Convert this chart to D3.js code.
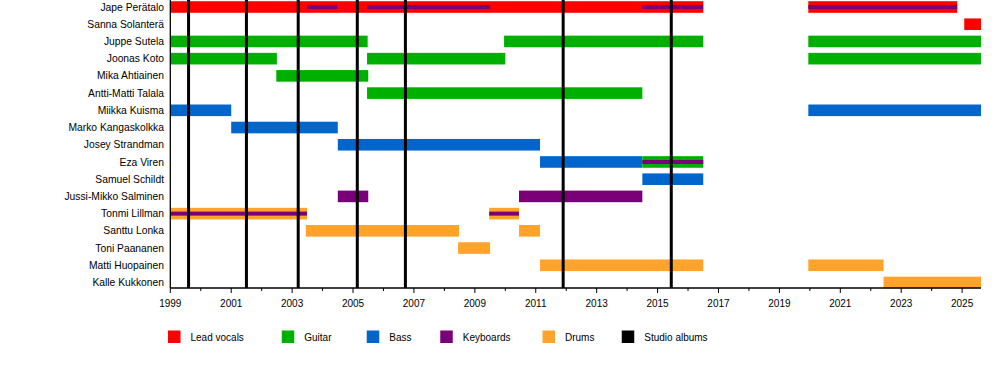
<!DOCTYPE html>
<html>
<head>
<meta charset="utf-8">
<script src="https://cdn.jsdelivr.net/npm/d3@7"></script>
<style>
  body { margin: 0; background: #fff; }
  text { font-family: "Liberation Sans", Arial, sans-serif; fill: #000; }
</style>
</head>
<body>
<div id="chart"></div>
<script>
(function () {
    // Data
    const members = [
        "Jape Perätalo", "Sanna Solanterä", "Juppe Sutela", "Joonas Koto", "Mika Ahtiainen",
        "Antti-Matti Talala", "Miikka Kuisma", "Marko Kangaskolkka", "Josey Strandman", "Eza Viren",
        "Samuel Schildt", "Jussi-Mikko Salminen", "Tonmi Lillman", "Santtu Lonka", "Toni Paananen",
        "Matti Huopainen", "Kalle Kukkonen"
    ];
    const roles = ["Lead vocals", "Guitar", "Bass", "Keyboards", "Drums", "Studio albums"];
    const endDate = 2025.62;

    // main bars: member, role, start, end
    const periods = [
        ["Jape Perätalo", "Lead vocals", 1999, 2016.5],
        ["Jape Perätalo", "Lead vocals", 2019.95, 2024.84],
        ["Sanna Solanterä", "Lead vocals", 2025.07, endDate],
        ["Juppe Sutela", "Guitar", 1999, 2005.48],
        ["Juppe Sutela", "Guitar", 2009.96, 2016.5],
        ["Juppe Sutela", "Guitar", 2019.95, endDate],
        ["Joonas Koto", "Guitar", 1999, 2002.5],
        ["Joonas Koto", "Guitar", 2005.46, 2010],
        ["Joonas Koto", "Guitar", 2019.95, endDate],
        ["Mika Ahtiainen", "Guitar", 2002.48, 2005.5],
        ["Antti-Matti Talala", "Guitar", 2005.46, 2014.5],
        ["Miikka Kuisma", "Bass", 1999, 2001],
        ["Miikka Kuisma", "Bass", 2019.95, endDate],
        ["Marko Kangaskolkka", "Bass", 2001, 2004.5],
        ["Josey Strandman", "Bass", 2004.5, 2011.14],
        ["Eza Viren", "Bass", 2011.14, 2014.5],
        ["Eza Viren", "Guitar", 2014.5, 2016.5],
        ["Samuel Schildt", "Bass", 2014.5, 2016.5],
        ["Jussi-Mikko Salminen", "Keyboards", 2004.5, 2005.5],
        ["Jussi-Mikko Salminen", "Keyboards", 2010.45, 2014.5],
        ["Tonmi Lillman", "Drums", 1999, 2003.49],
        ["Tonmi Lillman", "Drums", 2009.47, 2010.45],
        ["Santtu Lonka", "Drums", 2003.45, 2008.48],
        ["Santtu Lonka", "Drums", 2010.45, 2011.14],
        ["Toni Paananen", "Drums", 2008.45, 2009.5],
        ["Matti Huopainen", "Drums", 2011.14, 2016.5],
        ["Matti Huopainen", "Drums", 2019.95, 2022.42],
        ["Kalle Kukkonen", "Drums", 2022.42, endDate]
    ];

    // thin secondary-role bars drawn over the main ones
    const overlays = [
        ["Jape Perätalo", "Keyboards", 2003.49, 2004.48],
        ["Jape Perätalo", "Keyboards", 2005.46, 2009.5],
        ["Jape Perätalo", "Keyboards", 2014.5, 2016.5],
        ["Jape Perätalo", "Keyboards", 2019.95, 2024.84],
        ["Eza Viren", "Keyboards", 2014.5, 2016.5],
        ["Tonmi Lillman", "Keyboards", 1999, 2003.49],
        ["Tonmi Lillman", "Keyboards", 2009.47, 2010.45]
    ];

    const albums = [1999.6, 2001.5, 2003.2, 2005.14, 2006.72, 2011.9, 2015.45];

    // Layout
    const width = 1000, height = 368;
    const color = d3.scaleOrdinal()
        .domain(roles)
        .range(["#ff0000", "#00b000", "#0066cc", "#7a0078", "#ffa32a", "#000000"]);

    const x = d3.scaleLinear().domain([1999, endDate]).range([170.3, 981]);
    const y = d3.scaleBand().domain(members).range([-1.6, 291.1]).padding(0);
    const barH = 11.6, lineH = 4, axisY = 288;

    const svg = d3.select("#chart").append("svg")
        .attr("width", width)
        .attr("height", height)
        .attr("viewBox", [0, 0, width, height]);

    svg.append("rect").attr("width", width).attr("height", height).attr("fill", "#fff");

    // bars
    svg.append("g").selectAll("rect")
        .data(periods)
        .join("rect")
        .attr("x", d => x(d[2]))
        .attr("y", d => y(d[0]) + y.bandwidth() / 2 - barH / 2)
        .attr("width", d => x(d[3]) - x(d[2]))
        .attr("height", barH)
        .attr("fill", d => color(d[1]));

    svg.append("g").selectAll("rect")
        .data(overlays)
        .join("rect")
        .attr("x", d => x(d[2]))
        .attr("y", d => y(d[0]) + y.bandwidth() / 2 - lineH / 2)
        .attr("width", d => x(d[3]) - x(d[2]))
        .attr("height", lineH)
        .attr("fill", d => color(d[1]));

    // studio albums
    svg.append("g").selectAll("line")
        .data(albums)
        .join("line")
        .attr("x1", d => x(d)).attr("x2", d => x(d))
        .attr("y1", 0).attr("y2", axisY)
        .attr("stroke", "#000")
        .attr("stroke-width", 3);

    // left axis line
    svg.append("line")
        .attr("x1", x(1999)).attr("x2", x(1999))
        .attr("y1", 0).attr("y2", axisY)
        .attr("stroke", "#000").attr("stroke-width", 1.3);

    // bottom axis
    const years = d3.range(1999, 2026);
    const axis = svg.append("g");
    axis.append("line")
        .attr("x1", x(1999)).attr("x2", x(endDate))
        .attr("y1", axisY).attr("y2", axisY)
        .attr("stroke", "#000").attr("stroke-width", 1.3);
    axis.selectAll("line.tick")
        .data(years)
        .join("line")
        .attr("class", "tick")
        .attr("x1", d => x(d)).attr("x2", d => x(d))
        .attr("y1", axisY)
        .attr("y2", d => axisY + ((d - 1999) % 2 === 0 ? 5 : 3))
        .attr("stroke", "#000").attr("stroke-width", 1);
    axis.selectAll("text")
        .data(years.filter(d => (d - 1999) % 2 === 0))
        .join("text")
        .attr("x", d => x(d))
        .attr("y", 307)
        .attr("text-anchor", "middle")
        .style("font-size", "10px")
        .text(d => d);

    // member labels
    svg.append("g").selectAll("text")
        .data(members)
        .join("text")
        .attr("x", 164)
        .attr("y", d => y(d) + y.bandwidth() / 2)
        .attr("dy", "0.35em")
        .attr("text-anchor", "end")
        .style("font-size", "10.3px")
        .text(d => d);

    // legend
    const legend = svg.append("g");
    let lx = 168;
    roles.forEach(r => {
        const g = legend.append("g").attr("transform", `translate(${lx},0)`);
        g.append("rect").attr("x", 0).attr("y", 330.5).attr("width", 12.5).attr("height", 12.5)
            .attr("fill", color(r));
        g.append("text").attr("x", 22.5).attr("y", 340.5)
            .style("font-size", "10px").text(r);
        lx += 50.5 + 5.75 * r.length;
    });
})();
</script>
</body>
</html>
